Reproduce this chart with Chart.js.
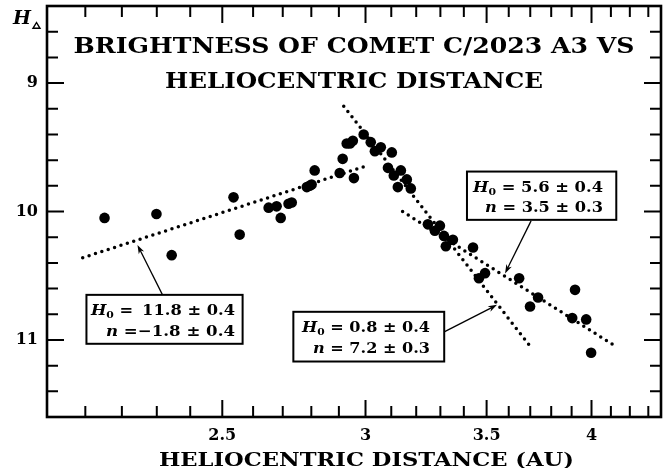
<!DOCTYPE html>
<html><head><meta charset="utf-8">
<script src="https://cdn.jsdelivr.net/npm/chart.js@4.4.1/dist/chart.umd.min.js"></script>
<style>html,body{margin:0;padding:0;background:#fff;}canvas{display:block;}</style>
</head><body>
<canvas id="c" width="672" height="468"></canvas>
<script>
// ---- data ----
const distanceAU = [2.152, 2.299, 2.344, 2.536, 2.556, 2.652, 2.679, 2.693, 2.720, 2.731,
  2.784, 2.794, 2.801, 2.812, 2.903, 2.914, 2.929, 2.941, 2.952, 2.956,
  2.993, 3.020, 3.036, 3.059, 3.102, 3.087, 3.110, 3.138, 3.162, 3.126,
  3.178, 3.248, 3.277, 3.298, 3.315, 3.323, 3.353, 3.440, 3.493, 3.466,
  3.648, 3.737, 3.699, 3.917, 3.903, 3.973, 3.998];
const magnitude = [10.05, 10.02, 10.34, 9.89, 10.18, 9.97, 9.96, 10.05, 9.94, 9.93,
  9.81, 9.80, 9.79, 9.68, 9.70, 9.59, 9.47, 9.47, 9.45, 9.74,
  9.40, 9.46, 9.53, 9.50, 9.54, 9.66, 9.72, 9.68, 9.75, 9.81,
  9.82, 10.10, 10.15, 10.11, 10.19, 10.27, 10.22, 10.28, 10.48, 10.52,
  10.52, 10.67, 10.74, 10.61, 10.83, 10.84, 11.10];

const fitPreR = [2.093, 3.011],  fitPreH = [10.36, 9.64];   // H0=11.8, n=-1.8
const fitSteepR = [2.918, 3.709], fitSteepH = [9.18, 11.07]; // H0=0.8, n=7.2
const fitPostR = [3.145, 4.125], fitPostH = [10.00, 11.05]; // H0=5.6, n=3.5

const xTickValues = [2.1,2.2,2.3,2.4,2.5,2.6,2.7,2.8,2.9,3,3.1,3.2,3.3,3.4,3.5,3.6,3.7,3.8,3.9,4,4.1,4.2,4.3];
const xMajorTicks = [2.5, 3, 3.5, 4];
const xTickLabels = ['2.5', '3', '3.5', '4'];
const yTickValues = [8.6,8.8,9,9.2,9.4,9.6,9.8,10,10.2,10.4,10.6,10.8,11,11.2,11.4];
const yMajorTicks = [9, 10, 11];
const yTickLabels = ['9', '10', '11'];

const titleLines = ['BRIGHTNESS OF COMET C/2023 A3 VS', 'HELIOCENTRIC DISTANCE'];
const xAxisTitle = 'HELIOCENTRIC DISTANCE (AU)';

// annotation boxes (data coordinates) and their texts
const boxH0 = ['11.8 \u00b1 0.4', '0.8 \u00b1 0.4', '5.6 \u00b1 0.4'];
const boxN  = ['\u22121.8 \u00b1 0.4', '7.2 \u00b1 0.3', '3.5 \u00b1 0.3'];
const annotations = [
  {box:[2.103, 10.649, 2.5655, 11.030], textRight:235, w1:144, w2:129, tail:[2.3168, 10.649], tip:[2.2441, 10.26], tightEq:true},
  {box:[2.7367, 10.781, 3.3161, 11.168], textRight:430, w1:128, w2:117, tail:[3.3161, 10.937], tip:[3.5468, 10.727]},
  {box:[3.4136, 9.689, 4.1282, 10.065], textRight:603, w1:130, w2:118, tail:[3.7038, 10.073], tip:[3.5832, 10.482]}
];

const SERIF = "'DejaVu Serif', 'Liberation Serif', serif";

function drawRich(ctx, parts, x, y, align, targetW) {
  let w = 0;
  parts.forEach(p => { ctx.font = p.font; p.w = ctx.measureText(p.t).width; w += p.w; });
  const s = targetW ? targetW / w : 1;
  const total = w * s;
  const x0 = align === 'right' ? x - total : align === 'center' ? x - total / 2 : x;
  ctx.save();
  ctx.translate(x0, y); ctx.scale(s, 1);
  let cx = 0;
  parts.forEach(p => { ctx.font = p.font; ctx.fillText(p.t, cx, p.dy || 0); cx += p.w; });
  ctx.restore();
}

function arrow(ctx, x1, y1, x2, y2) {
  const a = Math.atan2(y2 - y1, x2 - x1);
  const L = 9, W = 3;
  ctx.beginPath(); ctx.moveTo(x1, y1); ctx.lineTo(x2 - Math.cos(a) * L * 0.6, y2 - Math.sin(a) * L * 0.6); ctx.stroke();
  ctx.beginPath();
  ctx.moveTo(x2, y2);
  ctx.lineTo(x2 - L * Math.cos(a) + W * Math.sin(a), y2 - L * Math.sin(a) - W * Math.cos(a));
  ctx.lineTo(x2 - L * 0.7 * Math.cos(a), y2 - L * 0.7 * Math.sin(a));
  ctx.lineTo(x2 - L * Math.cos(a) - W * Math.sin(a), y2 - L * Math.sin(a) + W * Math.cos(a));
  ctx.closePath(); ctx.fill();
}

const decor = {
  id: 'decor',
  afterDraw(chart) {
    const {ctx, chartArea: ca, scales: {x, y}} = chart;
    ctx.save();
    ctx.strokeStyle = '#000'; ctx.fillStyle = '#000';
    // ticks on all four sides, pointing inward
    ctx.lineWidth = 2;
    xTickValues.forEach(v => {
      const px = x.getPixelForValue(v);
      const len = xMajorTicks.includes(v) ? 17 : 11;
      ctx.beginPath();
      ctx.moveTo(px, ca.bottom); ctx.lineTo(px, ca.bottom - len);
      ctx.moveTo(px, ca.top); ctx.lineTo(px, ca.top + len);
      ctx.stroke();
    });
    yTickValues.forEach(v => {
      const py = y.getPixelForValue(v);
      const len = yMajorTicks.includes(v) ? 17 : 11;
      ctx.beginPath();
      ctx.moveTo(ca.left, py); ctx.lineTo(ca.left + len, py);
      ctx.moveTo(ca.right, py); ctx.lineTo(ca.right - len, py);
      ctx.stroke();
    });
    // frame
    ctx.lineWidth = 2.6;
    ctx.strokeRect(ca.left, ca.top, ca.right - ca.left, ca.bottom - ca.top);

    // title inside plot
    ctx.textBaseline = 'alphabetic';
    const cx = (ca.left + ca.right) / 2;
    drawRich(ctx, [{t: titleLines[0], font: 'bold 23px ' + SERIF}], cx, 53, 'center', 561);
    drawRich(ctx, [{t: titleLines[1], font: 'bold 23px ' + SERIF}], cx, 88, 'center', 378);

    // y axis label H_Delta
    drawRich(ctx, [{t: 'H', font: 'italic bold 19px ' + SERIF}], 13, 24, 'left');
    ctx.beginPath(); ctx.moveTo(33, 28.3); ctx.lineTo(40, 28.3); ctx.lineTo(36.5, 22.5); ctx.closePath();
    ctx.lineWidth = 1.4; ctx.stroke();

    // x axis title
    drawRich(ctx, [{t: xAxisTitle, font: 'bold 18px ' + SERIF}], 159, 466, 'left', 415);

    // annotation boxes with arrows
    annotations.forEach((a, i) => {
      const l = x.getPixelForValue(a.box[0]), t = y.getPixelForValue(a.box[1]);
      const r = x.getPixelForValue(a.box[2]), b = y.getPixelForValue(a.box[3]);
      ctx.fillStyle = '#fff'; ctx.fillRect(l, t, r - l, b - t);
      ctx.fillStyle = '#000';
      ctx.lineWidth = 2; ctx.strokeRect(l, t, r - l, b - t);
      const f = 'bold 15px ' + SERIF, fi = 'italic bold 15px ' + SERIF, fs = 'bold 10px ' + SERIF;
      drawRich(ctx, [{t: 'H', font: fi}, {t: '0', font: fs, dy: 3}, {t: ' = ' + (a.tightEq ? '\u2009' : '') + boxH0[i], font: f}], a.textRight, t + 20.6, 'right', a.w1);
      drawRich(ctx, [{t: 'n', font: fi}, {t: (a.tightEq ? ' =' : ' = ') + boxN[i], font: f}], a.textRight, t + 40.8, 'right', a.w2);
      ctx.lineWidth = 1.3;
      arrow(ctx, x.getPixelForValue(a.tail[0]), y.getPixelForValue(a.tail[1]),
                 x.getPixelForValue(a.tip[0]), y.getPixelForValue(a.tip[1]));
    });
    ctx.restore();
  }
};

const dotted = {showLine: true, pointRadius: 0, borderColor: '#000', borderWidth: 3.5,
  borderDash: [0, 6.7], borderCapStyle: 'round', fill: false};

new Chart(document.getElementById('c').getContext('2d'), {
  type: 'scatter',
  data: {
    datasets: [
      {label: 'Observations', data: distanceAU.map((r, i) => ({x: r, y: magnitude[i]})),
        pointRadius: 5.3, pointBackgroundColor: '#000', pointBorderWidth: 0, showLine: false},
      Object.assign({label: 'fit pre', data: fitPreR.map((r, i) => ({x: r, y: fitPreH[i]}))}, dotted),
      Object.assign({label: 'fit steep', data: fitSteepR.map((r, i) => ({x: r, y: fitSteepH[i]}))}, dotted),
      Object.assign({label: 'fit post', data: fitPostR.map((r, i) => ({x: r, y: fitPostH[i]}))}, dotted)
    ]
  },
  options: {
    responsive: false, animation: false, devicePixelRatio: 1,
    layout: {padding: {top: 6, right: 11, left: 0, bottom: 0}},
    plugins: {legend: {display: false}, tooltip: {enabled: false}},
    scales: {
      x: {
        type: 'logarithmic', min: 2.0, max: 4.37, position: 'bottom',
        afterBuildTicks: s => { s.ticks = xTickValues.map(v => ({value: v})); },
        afterFit: s => { s.height = 51; s.paddingLeft = 0; s.paddingRight = 0; },
        grid: {display: false, drawTicks: false}, border: {display: false},
        ticks: {autoSkip: false, maxRotation: 0, padding: 9, color: '#000',
          font: {family: SERIF, weight: 'bold', size: 16},
          callback: v => { const i = xMajorTicks.indexOf(v); return i >= 0 ? xTickLabels[i] : ''; }}
      },
      y: {
        type: 'linear', reverse: true, min: 8.4, max: 11.6,
        afterBuildTicks: s => { s.ticks = yTickValues.map(v => ({value: v})); },
        afterFit: s => { s.width = 47; s.paddingTop = 0; s.paddingBottom = 0; },
        grid: {display: false, drawTicks: false}, border: {display: false},
        ticks: {autoSkip: false, padding: 9, color: '#000',
          font: {family: SERIF, weight: 'bold', size: 16},
          callback: v => { const i = yMajorTicks.indexOf(v); return i >= 0 ? yTickLabels[i] : ''; }}
      }
    }
  },
  plugins: [decor]
});
</script>
</body></html>
